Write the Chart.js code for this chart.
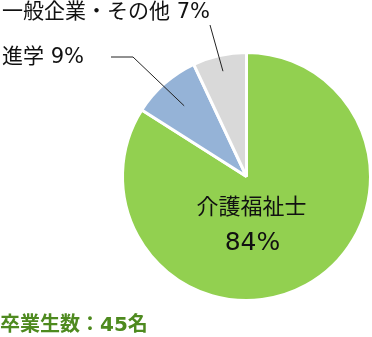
<!DOCTYPE html>
<html lang="ja">
<head>
<meta charset="utf-8">
<script src="https://cdn.jsdelivr.net/npm/chart.js@4/dist/chart.umd.min.js"></script>
<style>
  html, body { margin: 0; padding: 0; background: #fff; }
  #wrap { position: relative; width: 372px; height: 337px; }
  #total {
    position: absolute; left: 0; top: 312px;
    font: bold 20px "DejaVu Sans", "Noto Sans CJK JP", sans-serif;
    color: #4e8a1f; white-space: nowrap; line-height: 24px;
  }
</style>
</head>
<body>
<div id="wrap">
  <canvas id="pie" width="372" height="337"></canvas>
  <div id="total">卒業生数：45名</div>
</div>
<script>
  const labels = ["介護福祉士", "進学", "一般企業・その他"];
  const values = [84, 9, 7];
  const sliceColors = ["#92d050", "#95b3d7", "#d9d9d9"];

  const FONT = '"DejaVu Sans", "Noto Sans CJK JP", sans-serif';

  // label text anchors and leader line bends (index matches labels)
  const labelSpots = [
    null,
    { x: 2, y: 58, line: [[111, 57], [133, 57]], reach: 0.76 },
    { x: 2, y: 13, line: [[210, 25]], reach: 0.87 }
  ];

  const labelPlugin = {
    id: "pieLabels",
    afterDraw(chart) {
      const ctx = chart.ctx;
      const arcs = chart.getDatasetMeta(0).data;
      ctx.save();
      ctx.textBaseline = "middle";

      arcs.forEach((arc, i) => {
        const { x, y, startAngle, endAngle, outerRadius } = arc.getProps(
          ["x", "y", "startAngle", "endAngle", "outerRadius"], true);
        const mid = (startAngle + endAngle) / 2;

        if (i === 0) {
          // big slice: text inside
          ctx.fillStyle = "#111";
          ctx.textAlign = "center";
          ctx.font = "22px " + FONT;
          ctx.fillText(labels[i], x + 5, y + 32);
          ctx.font = "25px " + FONT;
          ctx.fillText(values[i] + "%", x + 6, y + 67);
          return;
        }

        const spot = labelSpots[i];
        const px = x + Math.cos(mid) * outerRadius * spot.reach;
        const py = y + Math.sin(mid) * outerRadius * spot.reach;

        ctx.strokeStyle = "#222";
        ctx.lineWidth = 1;
        ctx.beginPath();
        ctx.moveTo(spot.line[0][0], spot.line[0][1]);
        spot.line.slice(1).forEach(p => ctx.lineTo(p[0], p[1]));
        ctx.lineTo(px, py);
        ctx.stroke();

        ctx.fillStyle = "#111";
        ctx.textAlign = "left";
        ctx.font = "21px " + FONT;
        ctx.fillText(labels[i] + " " + values[i] + "%", spot.x, spot.y);
      });
      ctx.restore();
    }
  };

  new Chart(document.getElementById("pie"), {
    type: "pie",
    data: {
      labels: labels,
      datasets: [{
        data: values,
        backgroundColor: sliceColors,
        borderColor: "#fff",
        borderWidth: 3,
        hoverOffset: 0
      }]
    },
    options: {
      responsive: false,
      animation: false,
      events: [],
      layout: { padding: { left: 121, right: 0, top: 51, bottom: 35 } },
      plugins: {
        legend: { display: false },
        tooltip: { enabled: false }
      }
    },
    plugins: [labelPlugin]
  });
</script>
</body>
</html>
